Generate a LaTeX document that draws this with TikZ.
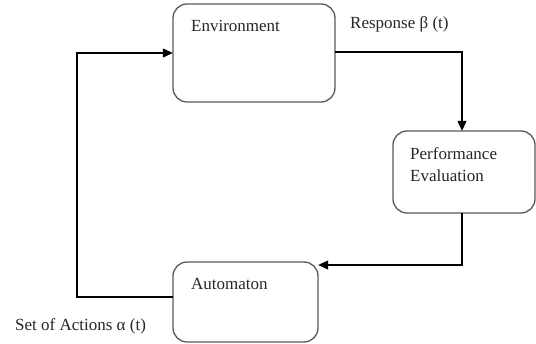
\documentclass[tikz,border=0pt]{standalone}
\usepackage{fontspec}
\setmainfont{Liberation Serif}
\usetikzlibrary{arrows.meta}
\begin{document}
\begin{tikzpicture}[x=1pt,y=-1pt,
  block/.style={draw=black!65, line width=1.3pt, rounded corners=14pt},
  flow/.style={draw=black, line width=1.1pt},
  arr/.style={-{Triangle[length=10pt,width=9pt]}},
  lbl/.style={font=\fontsize{17}{20}\selectfont, inner sep=0pt, anchor=base west, text=black!85}]
\useasboundingbox (0,0) rectangle (536,344);
% blocks
\draw[block] (173,4) rectangle (335,102);
\draw[block] (393,131) rectangle (535,213);
\draw[block] (173,262) rectangle (318,342);
\node (env) at (254,53) [minimum width=162pt, minimum height=98pt, inner sep=0pt] {};
\node (pe) at (464,172) [minimum width=142pt, minimum height=82pt, inner sep=0pt] {};
\node (aut) at (245.5,302) [minimum width=145pt, minimum height=80pt, inner sep=0pt] {};
% texts
\node[lbl] (tenv) at (191,32) {Environment};
\node[lbl] (tpe1) at (410,160) {Performance};
\node[lbl] (tpe2) at (410,182) {Evaluation};
\node[lbl] (taut) at (191,290) {Automaton};
\node[lbl] (tresp) at (350,29) {Response β (t)};
\node[lbl] (tact) at (15,331) {Set of Actions α (t)};
% connectors
\coordinate (c1) at (462,52);
\coordinate (c2) at (462,265);
\coordinate (c3) at (77,297);
\coordinate (c4) at (77,53);
\draw[flow,arr] (env.east |- c1) -- (c1) -- (c1 |- pe.north);
\draw[flow,arr] (c2 |- pe.south) -- (c2) -- (aut.east |- c2);
\draw[flow,arr] (aut.west |- c3) -- (c3) -- (c4) -- (env.west |- c4);
\end{tikzpicture}
\end{document}
